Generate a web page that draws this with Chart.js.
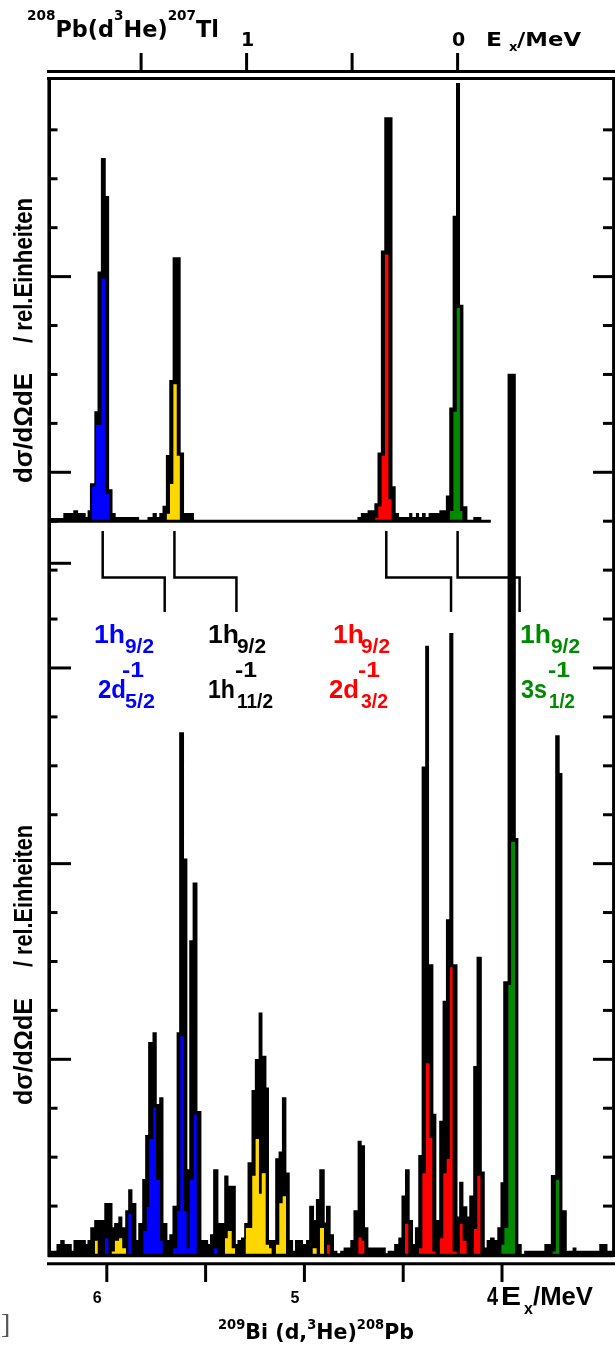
<!DOCTYPE html>
<html lang="de">
<head>
<meta charset="utf-8">
<title>208Pb(d,3He)207Tl / 209Bi(d,3He)208Pb</title>
<script src="https://cdn.jsdelivr.net/npm/chart.js@4.4.1/dist/chart.umd.min.js"></script>
<style>
  html, body { margin:0; padding:0; background:#fff; }
  #wrap { position:relative; width:615px; height:1351px; overflow:hidden; background:#fff; }
  #c { position:absolute; left:0; top:0; }
  .t { position:absolute; white-space:nowrap; line-height:1; }
</style>
</head>
<body>
<div id="wrap"><canvas id="c" width="615" height="1351"></canvas></div>
<script>
// ---------------- DATA ----------------
// Upper spectrum: 208Pb(d,3He)207Tl, bin edges in Ex(207Tl) / MeV, heights in rel. units (one tick = 1)
const topEdges = [1.932,1.865,1.818,1.802,1.766,1.750,1.739,1.718,1.703,1.687,1.671,1.655,1.639,1.624,1.513,1.466,1.442,1.429,1.410,1.395,1.379,1.363,1.347,1.316,1.300,1.253,0.471,0.455,0.423,0.391,0.376,0.360,0.344,0.312,0.297,0.281,0.226,0.218,0.194,0.186,0.165,0.155,0.134,0.083,0.052,0.036,0.020,0.004,-0.008,-0.024,-0.043,-0.078,-0.109,-0.157];
const topTotal = [0.05,0.15,0.21,0.15,0.07,0.21,0.76,2.23,5.09,7.41,6.63,0.64,0.15,0.07,0,0.07,0.15,0.07,0.15,0.30,1.34,2.87,5.38,1.39,0.15,0,0.07,0.15,0.21,0.35,1.39,5.52,8.24,0.70,0.15,0.07,0.15,0.07,0.15,0.07,0.15,0.07,0.15,0.21,0.51,2.31,6.23,8.94,4.41,0.29,0,0.07,0];
const topBlueEdges = [1.734,1.718,1.687,1.671,1.651];
const topBlue = [0.71,1.97,4.96,0.56];
const topYellowEdges = [1.379,1.363,1.347,1.331,1.316];
const topYellow = [0.15,0.76,2.80,1.34];
const topRedEdges = [0.391,0.376,0.360,0.344,0.328,0.312];
const topRed = [0.07,0.30,1.34,5.45,0.45];
const topGreenEdges = [0.036,0.020,0.004,-0.011,-0.024];
const topGreen = [0.21,2.24,4.36,0.21];

// Lower spectrum: 209Bi(d,3He)208Pb, bin edges in Ex(208Pb) / MeV
const botEdges = [6.282,6.251,6.232,6.217,6.181,6.165,6.110,6.094,6.080,6.060,6.009,5.975,5.959,5.938,5.925,5.903,5.888,5.874,5.854,5.837,5.817,5.802,5.787,5.765,5.751,5.731,5.717,5.697,5.680,5.664,5.643,5.630,5.613,5.596,5.579,5.562,5.545,5.525,5.491,5.474,5.458,5.439,5.402,5.388,5.351,5.335,5.317,5.301,5.284,5.264,5.247,5.228,5.216,5.196,5.183,5.144,5.127,5.110,5.095,5.078,5.061,5.044,5.011,4.988,4.972,4.955,4.938,4.921,4.901,4.887,4.871,4.854,4.837,4.815,4.798,4.764,4.748,4.727,4.714,4.697,4.680,4.592,4.575,4.542,4.521,4.505,4.487,4.471,4.454,4.437,4.420,4.403,4.385,4.373,4.351,4.336,4.314,4.297,4.280,4.263,4.250,4.229,4.213,4.199,4.179,4.162,4.142,4.125,4.106,4.091,4.074,4.057,4.041,4.020,4.004,3.990,3.968,3.934,3.921,3.904,3.884,3.782,3.749,3.727,3.712,3.698,3.676,3.639,3.627,3.504,3.470,3.443];
const botTotal = [0.07,0.21,0.29,0.21,0.07,0.29,0.21,0.29,0.55,0.70,1.05,0.55,0.64,0.77,0.55,0.90,1.33,1.05,0.29,0.64,1.54,2.44,4.34,4.54,3.07,3.21,0.64,0.29,0.41,0.99,4.54,10.67,8.09,1.74,6.42,7.60,2.93,0.29,0.21,0.41,1.74,0.64,1.61,1.40,0.21,0.29,0.34,0.64,1.88,3.36,3.99,4.94,4.06,3.41,0.29,1.96,2.10,3.21,1.67,0.29,0.07,0.29,0.21,0.29,0.99,0.70,1.13,1.74,0.65,0.99,0.41,0.07,0.02,0.07,0.14,0.29,0.90,2.32,2.23,0.55,0.14,0.02,0.07,0.21,0.34,1.20,1.74,0.70,0.21,0.55,2.03,9.97,12.44,5.93,2.87,0.70,2.73,5.18,6.85,12.70,5.93,0.77,1.48,0.98,0.77,1.20,3.85,6.08,1.69,0.14,0.29,0.34,0.29,0.55,1.47,5.58,18.0,8.51,0.21,0.0,0.07,0.21,1.62,10.61,9.84,0.90,0.07,0.14,0.07,0.21,0.07];
const botBlueEdges = [6.009,5.992,5.891,5.874,5.815,5.798,5.785,5.765,5.751,5.731,5.717,5.664,5.643,5.628,5.611,5.596,5.579,5.559,5.545,5.458,5.439];
const botBlue = [0.34,0,0.84,0,0.49,0.98,2.37,3.02,1.54,0.29,0,0.14,0.90,4.47,0.90,0.14,1.54,2.87,0,0.14];
const botYellowEdges = [6.060,6.046,5.975,5.959,5.938,5.922,5.903,5.402,5.388,5.368,5.351,5.297,5.264,5.247,5.230,5.216,5.196,5.179,5.166,5.144,5.127,5.110,5.093,4.958,4.938,4.921,4.901];
const botYellow = [0.29,0,0.07,0.29,0.34,0.14,0,0.34,0.49,0.14,0,0.55,1.62,2.37,1.25,1.67,0.21,0.14,0,0.21,1.06,1.20,0,0.14,0,0.55];
const botRedEdges = [4.887,4.871,4.727,4.710,4.697,4.491,4.474,4.420,4.403,4.385,4.368,4.353,4.336,4.314,4.297,4.280,4.263,4.250,4.229,4.213,4.199,4.179,4.142,4.125,4.108];
const botRed = [0.21,0,0.36,0.29,0,0.64,0,0.14,1.67,3.92,2.39,0.07,0,0.34,1.67,1.96,5.88,0.07,0,0.64,0.29,0,0.53,1.62];
const botGreenEdges = [4.004,3.988,3.968,3.954,3.934,3.744,3.727,3.710];
const botGreen = [0.21,0.55,5.52,8.45,0,0.07,1.54];

// Axes
const topAxisTicks = [1.5, 1, 0.5, 0];
const topAxisLabels = [[1, '1'], [0, '0']];
const botAxisTicks = [6, 5.5, 5, 4.5, 4];
const botAxisLabels = [[6, '6'], [5, '5']];
const topRange = [-0.7365, 1.9412];
const botRange = [3.4383, 6.2976];
const yRange = [0, 24.06];
const topZero = 15;           // upper spectrum baseline, in frame tick units
const yTicks = [1,2,3,4,5,6,7,8,9,10,11,12,13,14,15,16,17,18,19,20,21,22,23];
const extraLongTicks = [14.14];

// Correspondence 207Tl level -> 208Pb multiplet
const linkTop = [1.682, 1.342, 0.338, 0.000];
const linkBot = [5.707, 5.344, 4.258, 3.911];
const stateLabels = [
  { color: '#0000ff', a: '1h', as: '9/2', b: '2d', bs: '5/2' },
  { color: '#000000', a: '1h', as: '9/2', b: '1h', bs: '11/2' },
  { color: '#ff0000', a: '1h', as: '9/2', b: '2d', bs: '3/2' },
  { color: '#008a00', a: '1h', as: '9/2', b: '3s', bs: '1/2' }
];

// ---------------- BUILD ----------------
const COLORS = { blue: '#0000ff', yellow: '#ffd700', red: '#ff0000', green: '#008a00', black: '#000000' };
function hist(edges, h) {
  const pts = [{ x: edges[0], y: 0 }];
  for (let i = 0; i < h.length; i++) {
    pts.push({ x: edges[i], y: h[i] }, { x: edges[i + 1], y: h[i] });
  }
  pts.push({ x: edges[edges.length - 1], y: 0 });
  return pts;
}
function ds(edges, h, color, top, border) {
  return {
    data: hist(edges, h),
    xAxisID: top ? 'xTop' : 'x',
    yAxisID: top ? 'yTop' : 'y',
    backgroundColor: color,
    borderColor: color,
    borderWidth: border || 0,
    fill: 'origin',
    pointRadius: 0,
    tension: 0,
    borderJoinStyle: 'miter',
    borderCapStyle: 'butt'
  };
}
const datasets = [
  ds(topBlueEdges, topBlue, COLORS.blue, true),
  ds(topYellowEdges, topYellow, COLORS.yellow, true),
  ds(topRedEdges, topRed, COLORS.red, true),
  ds(topGreenEdges, topGreen, COLORS.green, true),
  ds(topEdges, topTotal, COLORS.black, true, 1.5),
  ds(botBlueEdges, botBlue, COLORS.blue, false),
  ds(botYellowEdges, botYellow, COLORS.yellow, false),
  ds(botRedEdges, botRed, COLORS.red, false),
  ds(botGreenEdges, botGreen, COLORS.green, false),
  ds(botEdges, botTotal, COLORS.black, false, 1.5)
];

const framePlugin = {
  id: 'frame',
  afterDatasetsDraw(chart) {
    const c = chart.ctx, S = chart.scales;
    const xT = S.xTop, xB = S.x, yF = S.y, yT = S.yTop;
    c.save();
    c.strokeStyle = '#000';
    c.lineCap = 'butt';
    const L = (x1, y1, x2, y2, w) => { c.lineWidth = w; c.beginPath(); c.moveTo(x1, y1); c.lineTo(x2, y2); c.stroke(); };
    // upper energy axis (207Tl)
    L(47, 71.5, 615, 71.5, 3);
    topAxisTicks.forEach(v => { const p = xT.getPixelForValue(v); L(p, 53, p, 71, 3); });
    // frame
    L(47, 78.5, 615, 78.5, 3);
    L(49.2, 77, 49.2, 1257, 3.6);
    L(613.6, 77, 613.6, 1257, 3);
    // y ticks
    yTicks.forEach(v => {
      const p = yF.getPixelForValue(v);
      const long = v % 4 === 0;
      L(51, p, long ? 71 : 57.5, p, 3);
      L(long ? 593 : 603, p, 612.5, p, 3);
    });
    extraLongTicks.forEach(v => { const p = yF.getPixelForValue(v); L(51, p, 71, p, 3); });
    // baselines
    const yb0 = yT.getPixelForValue(0);
    L(51, yb0, xT.getPixelForValue(topEdges[topEdges.length - 1]), yb0, 3);
    const yb1 = yF.getPixelForValue(0) + 0.5;
    L(48, yb1, 613, yb1, 3.5);
    // lower energy axis (208Pb)
    L(47, 1263.7, 615, 1263.7, 3);
    botAxisTicks.forEach(v => { const p = xB.getPixelForValue(v); L(p, 1264, p, 1282, 3); });
    // connectors
    c.lineWidth = 2.5; c.lineJoin = 'miter';
    linkTop.forEach((e, i) => {
      const p1 = xT.getPixelForValue(e), p2 = xB.getPixelForValue(linkBot[i]);
      c.beginPath(); c.moveTo(p1, 531); c.lineTo(p1, 577.5); c.lineTo(p2, 577.5); c.lineTo(p2, 612); c.stroke();
    });
    c.restore();
  }
};

const chart = new Chart(document.getElementById('c'), {
  type: 'line',
  data: { datasets },
  options: {
    responsive: false,
    animation: false,
    devicePixelRatio: 1,
    events: [],
    layout: { padding: { left: 48, right: 2, top: 78, bottom: 96 } },
    scales: {
      xTop: { type: 'linear', axis: 'x', display: false, reverse: true, min: topRange[0], max: topRange[1] },
      x: { type: 'linear', axis: 'x', display: false, reverse: true, min: botRange[0], max: botRange[1] },
      y: { type: 'linear', axis: 'y', display: false, min: yRange[0], max: yRange[1] },
      yTop: { type: 'linear', axis: 'y', display: false, min: yRange[0] - topZero, max: yRange[1] - topZero }
    },
    plugins: {
      legend: { display: false },
      tooltip: { enabled: false },
      filler: { drawTime: 'beforeDatasetsDraw' }
    }
  },
  plugins: [framePlugin]
});

// ---------------- TEXT ----------------
const wrap = document.getElementById('wrap');
const LIB = '"Liberation Sans", Arial, sans-serif';
const DJV = '"DejaVu Sans", sans-serif';
function sup(t, size, raise) { return `<span style="font-size:${size}px;position:relative;top:${-raise}px">${t}</span>`; }
function addText(html, left, base, size, o = {}) {
  const d = document.createElement('div');
  d.className = 't';
  d.innerHTML = html;
  d.style.fontSize = size + 'px';
  d.style.fontFamily = o.font || LIB;
  d.style.fontWeight = o.weight || 'bold';
  d.style.color = o.color || '#000';
  d.style.top = (base - 0.846 * size) + 'px';
  d.style.left = left + 'px';
  wrap.appendChild(d);
  const w = d.getBoundingClientRect().width;
  const sx = o.width ? o.width / w : 1;
  if (o.center) d.style.left = (left - w * sx / 2) + 'px';
  if (sx !== 1) { d.style.transformOrigin = '0 0'; d.style.transform = `scaleX(${sx})`; }
  return d;
}
function addVText(html, capLeft, yStart, size, len, o = {}) {
  const d = document.createElement('div');
  d.className = 't';
  d.innerHTML = html;
  d.style.fontSize = size + 'px';
  d.style.fontFamily = o.font || LIB;
  d.style.fontWeight = o.weight || 'bold';
  d.style.color = '#000';
  d.style.left = (capLeft - 0.13 * size) + 'px';
  d.style.top = yStart + 'px';
  wrap.appendChild(d);
  const w = d.getBoundingClientRect().width;
  d.style.transformOrigin = '0 0';
  d.style.transform = `rotate(-90deg) scaleX(${len / w})`;
  return d;
}

// titles
addText(sup('208', 14, 17) + 'Pb(d' + sup('3', 14, 17) + 'He)' + sup('207', 14, 17) + 'Tl', 27, 37, 23, { font: DJV, width: 192 });
addText(sup('209', 14, 10) + 'Bi (d,' + sup('3', 14, 10) + 'He)' + sup('208', 14, 10) + 'Pb', 218, 1340, 22, { font: DJV, width: 196 });

// upper axis labels
const xTs = chart.scales.xTop, xBs = chart.scales.x;
topAxisLabels.forEach(([v, t]) => addText(t, xTs.getPixelForValue(v) + 1, 46, 19, { font: DJV, center: true }));
addText('E', 486, 46, 19, { font: DJV, width: 16 });
addText('x', 509, 51, 13, { font: DJV });
addText('/MeV', 517, 46, 19, { font: DJV, width: 64 });

// lower axis labels
botAxisLabels.forEach(([v, t]) => addText(t, xBs.getPixelForValue(v) - 9.5, 1304, 16, { center: true }));
addText('4', 487, 1305, 26, { width: 11 });
addText('E', 501, 1305, 26, { width: 20 });
addText('x', 524, 1315, 16);
addText('/MeV', 533, 1305, 26, { width: 60 });

// y titles
addVText('dσ/dΩdE', 13, 483, 26, 110);
addVText('/ rel.Einheiten', 13, 343, 26, 145);
addVText('dσ/dΩdE', 13, 1105, 26, 107);
addVText('/ rel.Einheiten', 13, 967, 26, 142);

// state labels
const labelPos = [
  [94, 125, 122, 98, 125, 28, 30],
  [208, 237, 234.5, 208, 237, 27, 36],
  [333, 361, 357.6, 329, 361, 30, 27],
  [519.6, 551, 548, 520.8, 549, 26, 26]
];
stateLabels.forEach((s, i) => {
  const p = labelPos[i];
  addText(s.a, p[0], 643, 26, { color: s.color, width: 31 });
  addText(s.as, p[1], 653, 20, { color: s.color, width: 29 });
  addText('-1', p[2], 678, 22, { color: s.color, width: 22 });
  addText(s.b, p[3], 698, 26, { color: s.color, width: p[5] });
  addText(s.bs, p[4], 708, 20, { color: s.color, width: p[6] });
});

// scan artefact at lower left
addText(']', 1, 1334, 28, { font: '"Liberation Serif", serif', weight: 'normal', color: '#555' });
</script>
</body>
</html>
